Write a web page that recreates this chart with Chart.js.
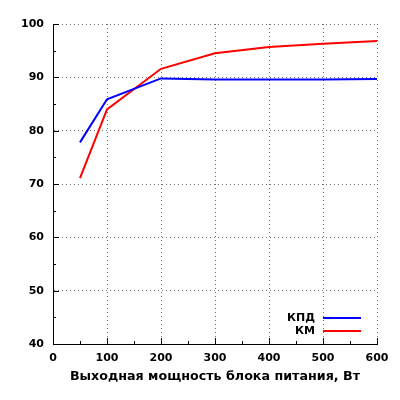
<!DOCTYPE html>
<html>
<head>
<meta charset="utf-8">
<script src="https://cdn.jsdelivr.net/npm/chart.js@4"></script>
<style>
  html, body { margin: 0; padding: 0; background: #fff; }
  #wrap { width: 400px; height: 400px; }
</style>
</head>
<body>
<div id="wrap"><canvas id="c"></canvas></div>
<script>
const power = [50, 100, 200, 300, 400, 500, 600];
const kpd = [77.8, 85.9, 89.8, 89.6, 89.6, 89.6, 89.7];
const km = [71.1, 84.0, 91.6, 94.5, 95.7, 96.3, 96.8];
const seriesNames = ['КПД', 'КМ'];
const xTitle = 'Выходная мощность блока питания, Вт';

const font = { family: '"DejaVu Sans"', size: 11, weight: 'bold' };

// gnuplot-like inward ticks (major + minor) and an inside legend
const extras = {
    id: 'extras',
    afterDraw(chart) {
        const { ctx, chartArea: a, scales: { x, y } } = chart;
        ctx.save();
        ctx.strokeStyle = '#000';
        ctx.lineWidth = 1;
        ctx.beginPath();
        for (let v = 0; v <= 600; v += 50) {
            const px = Math.round(x.getPixelForValue(v)) + 0.5;
            const len = v % 100 === 0 ? 6 : 3;
            ctx.moveTo(px, a.bottom);
            ctx.lineTo(px, a.bottom - len);
        }
        for (let v = 40; v <= 100; v += 5) {
            const py = Math.round(y.getPixelForValue(v)) + 0.5;
            const len = v % 10 === 0 ? 6 : 3;
            ctx.moveTo(a.left, py);
            ctx.lineTo(a.left + len, py);
        }
        ctx.stroke();

        ctx.font = 'bold 11px "DejaVu Sans"';
        ctx.textAlign = 'right';
        ctx.textBaseline = 'middle';
        chart.data.datasets.forEach((ds, i) => {
            const ly = 318 + i * 13;
            ctx.fillStyle = '#000';
            ctx.fillText(ds.label, 315, ly);
            ctx.strokeStyle = ds.borderColor;
            ctx.lineWidth = 2;
            ctx.beginPath();
            ctx.moveTo(323, ly);
            ctx.lineTo(361, ly);
            ctx.stroke();
        });
        ctx.restore();
    },
};

new Chart(document.getElementById('c'), {
    type: 'line',
    data: {
        datasets: [
            {
                label: seriesNames[0],
                data: power.map((p, i) => ({ x: p, y: kpd[i] })),
                borderColor: '#0000ff',
                borderWidth: 2,
                pointRadius: 0,
                tension: 0,
            },
            {
                label: seriesNames[1],
                data: power.map((p, i) => ({ x: p, y: km[i] })),
                borderColor: '#ff0000',
                borderWidth: 2,
                pointRadius: 0,
                tension: 0,
            },
        ],
    },
    options: {
        responsive: true,
        maintainAspectRatio: false,
        animation: false,
        layout: { padding: { top: 24, right: 23, left: 0, bottom: 16 } },
        plugins: {
            legend: { display: false },
            tooltip: { enabled: false },
        },
        scales: {
            x: {
                type: 'linear',
                min: 0,
                max: 600,
                ticks: { stepSize: 100, color: '#000', font, padding: 8, maxRotation: 0 },
                grid: { color: '#707070', drawTicks: false, lineWidth: 1 },
                border: { display: true, color: '#000', width: 1, dash: [1, 3] },
                title: {
                    display: true,
                    text: xTitle,
                    color: '#000',
                    font: { family: '"DejaVu Sans"', size: 12.7, weight: 'bold' },
                    padding: { top: 4, bottom: 0 },
                },
                afterFit: (s) => { s.height = 40; },
            },
            y: {
                min: 40,
                max: 100,
                ticks: { stepSize: 10, color: '#000', font, padding: 9 },
                grid: { color: '#707070', drawTicks: false, lineWidth: 1 },
                border: { display: true, color: '#000', width: 1, dash: [1, 3] },
                afterFit: (s) => { s.width = 53; },
            },
        },
    },
    plugins: [extras],
});
</script>
</body>
</html>
